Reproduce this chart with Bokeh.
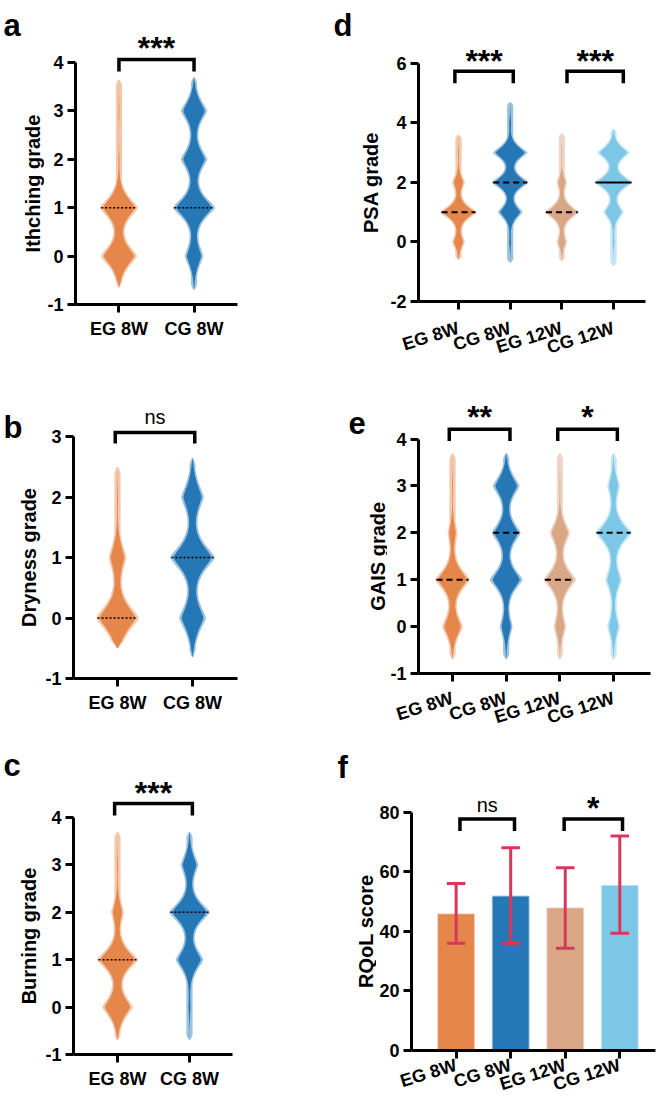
import numpy as np
from bokeh.plotting import figure
from bokeh.models import FixedTicker, Label
from bokeh.layouts import row, column
from bokeh.embed import file_html
from bokeh.resources import INLINE
from bokeh.core.properties import value

FONT = "Liberation Sans"

# ------------------------------------------------------------------ data
grades = [0, 1, 2, 3, 4]
groups2 = ["EG 8W", "CG 8W"]
groups4 = ["EG 8W", "CG 8W", "EG 12W", "CG 12W"]

# relative density of each grade 0..4
itch_eg8 = [17, 18, 0.5, 0.5, 0]
itch_cg8 = [8, 20, 12, 12, 0]
itch_lo = [-0.65, -0.7]
itch_hi = [3.65, 3.7]

dry_eg8 = [20, 7.5, 0.5, 0, 0]
dry_cg8 = [12, 21, 10, 0, 0]
dry_lo = [-0.5, -0.65]
dry_hi = [2.5, 2.65]

burn_eg8 = [14, 19, 5, 0.5, 0]
burn_cg8 = [1, 12.5, 19, 7.5, 0]
burn_lo = [-0.7, -0.7]
burn_hi = [3.7, 3.7]

psa_eg8 = [5, 17, 5, 0.5, 0]
psa_cg8 = [1, 11, 17, 16, 1]
psa_eg12 = [4, 16, 4, 0.5, 0]
psa_cg12 = [1, 9, 18, 15, 0]
psa_lo = [-0.6, -0.7, -0.65, -0.8]
psa_hi = [3.6, 4.7, 3.65, 3.8]

gais_eg8 = [9, 16, 3.5, 0.5, 0]
gais_cg8 = [5, 15, 13, 12, 0]
gais_eg12 = [5, 15, 9, 0.5, 0]
gais_cg12 = [5, 7, 17, 5, 0]
gais_lo = [-0.7, -0.7, -0.7, -0.7]
gais_hi = [3.7, 3.7, 3.7, 3.7]

rqol_mean = [45.7, 51.7, 47.7, 55.3]
rqol_low = [36.0, 36.0, 34.3, 39.3]
rqol_high = [56.0, 68.0, 61.3, 72.0]

sig_a = ["***"]
sig_b = ["ns"]
sig_c = ["***"]
sig_d = ["***", "***"]
sig_e = ["**", "*"]
sig_f = ["ns", "*"]

colors = ["#E5864A", "#2577B6", "#D9A786", "#7CC7E5"]
err_color = "#D7385A"


# ------------------------------------------------------------------ helpers
def wmedian(d):
    d = np.asarray(d, float)
    c = np.cumsum(d)
    return grades[int(np.searchsorted(c, c[-1] / 2.0))]


def make_panel(s):
    W, H, S = s["w"], s["h"], s["S"]
    L, R, T, B = s["L"], s["R"], s["T"], s["B"]
    xppu = s["xppu"]
    xs = (L - s["xt0"]) / xppu
    xe = (R - s["xt0"]) / xppu
    (yb0, yb1), (pb0, pb1) = s["yb"], s["ybpx"]
    yppu = (pb0 - pb1) / (yb1 - yb0)

    def ypx(px):
        return yb0 + (pb0 - px) / yppu

    s["ypx"] = ypx
    s["xppu_v"] = xppu

    p = figure(width=W - S, height=H, x_range=(xs, xe), y_range=(ypx(B), ypx(T)),
               output_backend="svg", toolbar_location=None,
               min_border_left=L - S, min_border_right=W - R,
               min_border_top=T, min_border_bottom=H - B)
    p.title.visible = False
    p.outline_line_color = None
    p.xgrid.visible = False
    p.ygrid.visible = False
    for ax in (p.xaxis[0], p.yaxis[0]):
        ax.axis_line_width = 3
        ax.axis_line_color = "black"
        ax.major_tick_line_width = 3
        ax.major_tick_line_color = "black"
        ax.major_tick_in = 0
        ax.major_tick_out = 8
        ax.minor_tick_line_color = None
        ax.major_label_text_font = FONT
        ax.major_label_text_font_style = "bold"
        ax.major_label_text_font_size = "18px"
        ax.major_label_text_color = "black"
    p.yaxis.bounds = (yb0, yb1)
    yt = list(np.arange(yb0, yb1 + 1e-9, s["ystep"]))
    p.yaxis.ticker = FixedTicker(ticks=yt)
    p.yaxis.major_label_overrides = {float(t): "%d" % t for t in yt}
    p.yaxis.major_label_standoff = 4
    cats = s["cats"]
    p.xaxis.ticker = FixedTicker(ticks=list(range(len(cats))))
    p.xaxis.major_label_overrides = {i: c for i, c in enumerate(cats)}
    p.xaxis.major_label_standoff = s.get("xstand", 6)
    if s.get("rot"):
        p.xaxis.major_label_orientation = s["rot"]

    # side strip: panel letter + y-axis title (frame is aligned with the plot's frame)
    side = figure(width=S, height=H, x_range=(0, S), y_range=p.y_range,
                  output_backend="svg", toolbar_location=None,
                  x_axis_location=None, y_axis_location=None,
                  min_border=0, min_border_left=0, min_border_right=0,
                  min_border_top=T, min_border_bottom=H - B)
    side.title.visible = False
    side.outline_line_color = None
    side.xgrid.visible = False
    side.ygrid.visible = False
    side.text(x=[s["ytx"]], y=[(yb0 + yb1) / 2], text=[s["ytitle"]], angle=np.pi / 2,
              text_align="center", text_baseline="middle", text_font=value(FONT),
              text_font_style="bold", text_font_size="20px", text_color="black")
    side.text(x=[s["lx"]], y=[ypx(s["lby"])], text=[s["letter"]],
              text_align="left", text_baseline="alphabetic", text_font=value(FONT),
              text_font_style="bold", text_font_size="31px", text_color="black")

    # brackets + significance
    top = ypx(s["brpx"])
    leg = ypx(s["legpx"])
    for (i, j), (oi, oj), lab in zip(s["pairs"], s["broff"], s["sig"]):
        x1, x2 = i + oi, j + oj
        p.line([x1, x1, x2, x2], [leg, top, top, leg], line_color="black",
               line_width=3.5, line_join="miter")
        if lab == "ns":
            ty = ypx(s["sigpx"] + 1)
            fs, st = "20px", "normal"
        else:
            ty = ypx(s["sigpx"] + 4)
            fs, st = "32px", "bold"
        p.add_layout(Label(x=(x1 + x2) / 2, y=ty, text=lab, text_align="center",
                           text_baseline="middle", text_font=FONT, text_font_style=st,
                           text_font_size=fs, text_color="black"))
    return side, p


def violins(p, s, dens_list, lo_list, hi_list, med_dash):
    xppu = s["xppu_v"]
    maxw = s["maxw"]
    sc = 0.3
    floor_px = 1.8
    curves = []
    for d, lo, hi in zip(dens_list, lo_list, hi_list):
        y = np.linspace(lo, hi, 500)
        f = np.zeros_like(y)
        for g, w in zip(grades, d):
            f += w * np.exp(-(np.abs(y - g) / sc) ** 1.4)
        curves.append((y, f))
    fmax = max(c[1].max() for c in curves)
    for k, ((y, f), d) in enumerate(zip(curves, dens_list)):
        lo, hi = y[0], y[-1]
        taper = np.clip(np.minimum(y - lo, hi - y) / 0.12, 0, 1) ** 0.6
        hw = f / fmax * maxw * taper
        outer = (np.maximum(hw, floor_px * taper) + 1.3 * taper) / xppu
        inner = hw * 0.9 / xppu
        xo = np.concatenate([k - outer, (k + outer)[::-1]])
        xi = np.concatenate([k - inner, (k + inner)[::-1]])
        yy = np.concatenate([y, y[::-1]])
        p.patch(xo, yy, fill_color=colors[k], fill_alpha=0.45, line_color=None)
        p.patch(xi, yy, fill_color=colors[k], fill_alpha=1.0, line_color=None)
        m = wmedian(d)
        hm = np.interp(m, y, hw) / xppu
        dash = med_dash[k]
        p.line([k - hm, k + hm], [m, m], line_color="black",
               line_width=1.6 if dash == "2 2" else 2.0, line_dash=dash)


# ------------------------------------------------------------------ panels
spec_a = dict(w=330, h=370, S=44, L=73, R=237, T=3, B=304, xt0=117, xppu=76,
              yb=(-1, 4), ybpx=(304, 62), ystep=1, cats=groups2,
              brpx=59, legpx=71, sigpx=43, ytx=32, lx=3, lby=25, letter="a",
              ytitle="Ithching grade", pairs=[(0, 1)], broff=[(0.0, 0.0)], sig=sig_a,
              maxw=20)
spec_b = dict(w=330, h=370, S=42, L=73, R=237, T=3, B=308, xt0=117, xppu=75,
              yb=(-1, 3), ybpx=(308, 66), ystep=1, cats=groups2,
              brpx=62, legpx=73, sigpx=45, ytx=28, lx=3, lby=57, letter="b",
              ytitle="Dryness grade", pairs=[(0, 1)], broff=[(-0.03, 0.03)], sig=sig_b,
              maxw=21)
spec_c = dict(w=330, h=367, S=42, L=73, R=232, T=3, B=314, xt0=117, xppu=72,
              yb=(-1, 4), ybpx=(314, 77), ystep=1, cats=groups2,
              brpx=63, legpx=75, sigpx=48, ytx=28, lx=3, lby=25, letter="c",
              ytitle="Burning grade", pairs=[(0, 1)], broff=[(-0.04, 0.04)], sig=sig_c,
              maxw=19)
spec_d = dict(w=331, h=370, S=54, L=88, R=315, T=3, B=302, xt0=128, xppu=51.67,
              yb=(-2, 6), ybpx=(302, 63), ystep=2, cats=groups4, rot=0.3, xstand=18,
              brpx=71, legpx=83, sigpx=57, ytx=40, lx=3, lby=25, letter="d",
              ytitle="PSA grade", pairs=[(0, 1), (2, 3)],
              broff=[(-0.07, 0.06), (0.1, 0.19)], sig=sig_d, maxw=18)
spec_e = dict(w=331, h=370, S=57, L=88, R=320, T=3, B=305, xt0=122, xppu=53.7,
              yb=(-1, 4), ybpx=(305, 69), ystep=1, cats=groups4, rot=0.3, xstand=16,
              brpx=59, legpx=71, sigpx=43, ytx=47, lx=18, lby=53, letter="e",
              ytitle="GAIS grade", pairs=[(0, 1), (2, 3)],
              broff=[(-0.06, 0.07), (-0.04, 0.07)], sig=sig_e, maxw=17)
spec_f = dict(w=331, h=367, S=46, L=79, R=325, T=3, B=312, xt0=124, xppu=55,
              yb=(0, 80), ybpx=(312, 72), ystep=20, cats=groups4, rot=0.3, xstand=6,
              brpx=79, legpx=91, sigpx=64, ytx=35, lx=7, lby=27, letter="f",
              ytitle="RQoL score", pairs=[(0, 1), (2, 3)],
              broff=[(0.07, 0.07), (-0.02, 0.05)], sig=sig_f, maxw=0)

sa, pa = make_panel(spec_a)
violins(pa, spec_a, [itch_eg8, itch_cg8], itch_lo, itch_hi, ["2 2", "2 2"])
sb, pb = make_panel(spec_b)
violins(pb, spec_b, [dry_eg8, dry_cg8], dry_lo, dry_hi, ["2 2", "2 2"])
sc_, pc = make_panel(spec_c)
violins(pc, spec_c, [burn_eg8, burn_cg8], burn_lo, burn_hi, ["2 2", "2 2"])
sd, pd = make_panel(spec_d)
violins(pd, spec_d, [psa_eg8, psa_cg8, psa_eg12, psa_cg12], psa_lo, psa_hi,
        ["6 4", "6 4", "6 4", "solid"])
se, pe = make_panel(spec_e)
violins(pe, spec_e, [gais_eg8, gais_cg8, gais_eg12, gais_cg12], gais_lo, gais_hi,
        ["6 4", "6 4", "6 4", "6 4"])

sf, pf = make_panel(spec_f)
xi = list(range(len(groups4)))
pf.vbar(x=xi, top=rqol_mean, width=0.66, fill_color=colors, line_color=colors,
        line_alpha=0.35, line_width=2)
cap = 0.17
pf.segment(x0=xi, y0=rqol_low, x1=xi, y1=rqol_high, line_color=err_color, line_width=3)
pf.segment(x0=[x - cap for x in xi], y0=rqol_high, x1=[x + cap for x in xi], y1=rqol_high,
           line_color=err_color, line_width=3)
pf.segment(x0=[x - cap for x in xi], y0=rqol_low, x1=[x + cap for x in xi], y1=rqol_low,
           line_color=err_color, line_width=3)

left_col = column(row(sa, pa), row(sb, pb), row(sc_, pc))
right_col = column(row(sd, pd), row(se, pe), row(sf, pf))
layout = row(left_col, right_col)
open("out.html", "w").write(file_html(layout, INLINE))
